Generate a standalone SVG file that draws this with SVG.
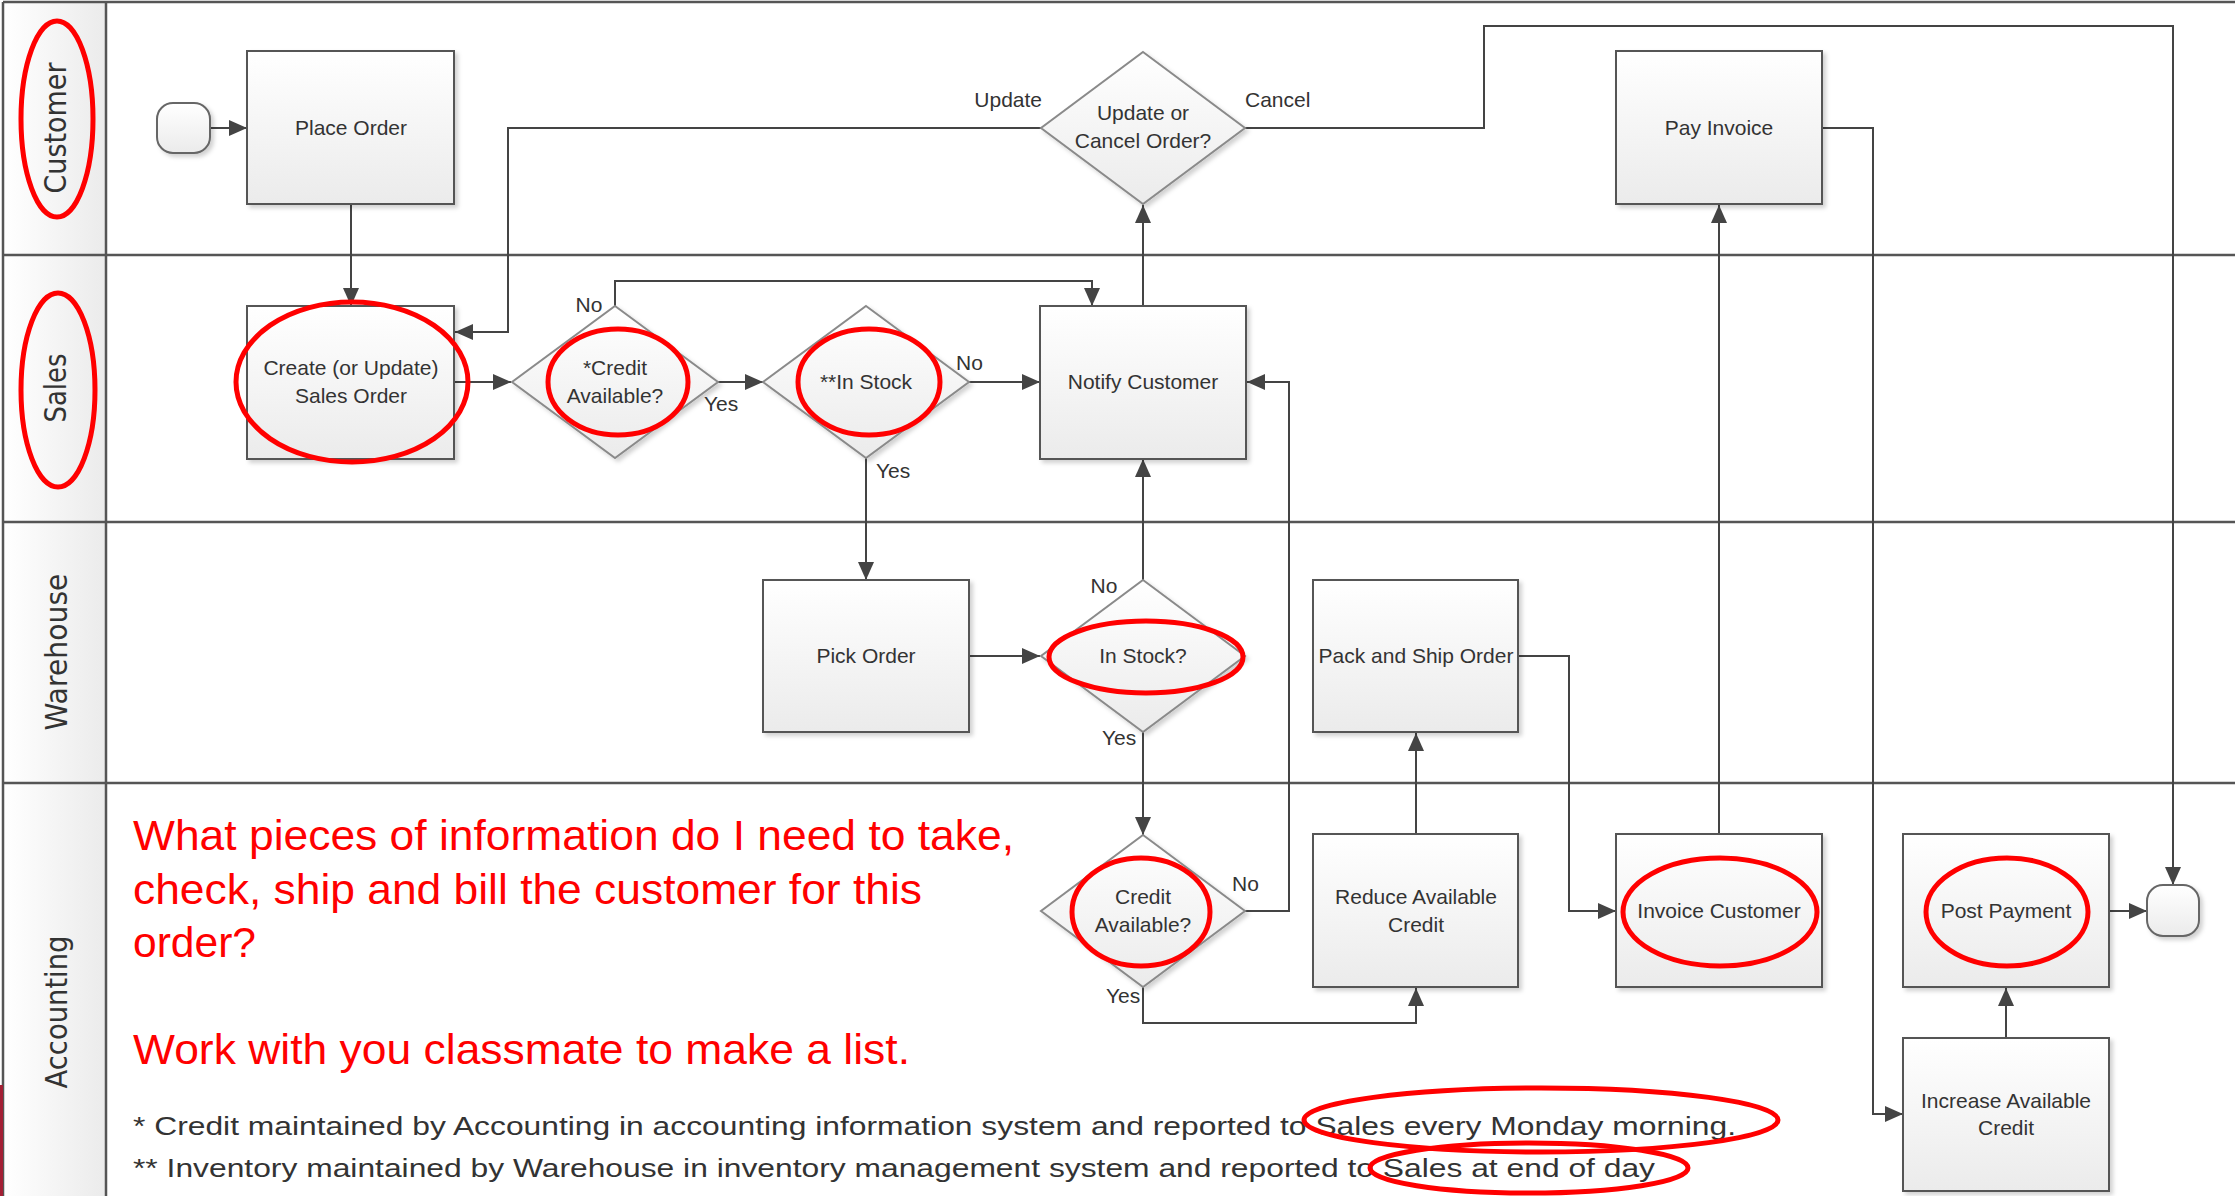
<svg xmlns="http://www.w3.org/2000/svg" width="2235" height="1196" viewBox="0 0 2235 1196">
<style>
.lane{stroke:#555;stroke-width:2.5;fill:none}
.box{fill:url(#gBox);stroke:#555;stroke-width:2;filter:url(#sh)}
.dia{fill:url(#gBox);stroke:#8a8a8a;stroke-width:2;filter:url(#sh)}
.term{fill:url(#gBox);stroke:#666;stroke-width:2;filter:url(#sh)}
.t{font-family:"Liberation Sans",Arial,sans-serif;font-size:21px;fill:#333;text-anchor:middle}
.lbl{font-family:"Liberation Sans",Arial,sans-serif;font-size:21px;fill:#333}
.ln{font-family:"DejaVu Sans",Verdana,sans-serif;font-size:30px;fill:#333;text-anchor:middle}
.q{font-family:"Liberation Sans",Arial,sans-serif;font-size:42px;fill:#ff0000}
.fn{font-family:"Liberation Sans",Arial,sans-serif;font-size:26px;fill:#333}
.c{fill:none;stroke:#444;stroke-width:2;marker-end:url(#ah)}
.cn{fill:none;stroke:#444;stroke-width:2}
.red{fill:none;stroke:#ff0000;stroke-width:5}
</style>
<defs>
<linearGradient id="gBox" x1="0" y1="0" x2="0" y2="1"><stop offset="0" stop-color="#ffffff"/><stop offset="1" stop-color="#ebebeb"/></linearGradient>
<linearGradient id="gHead" x1="0" y1="0" x2="1" y2="0"><stop offset="0" stop-color="#ffffff"/><stop offset="1" stop-color="#ebebeb"/></linearGradient>
<filter id="sh" x="-10%" y="-10%" width="130%" height="130%"><feDropShadow dx="3" dy="3" stdDeviation="2" flood-color="#000" flood-opacity="0.18"/></filter>
<marker id="ah" markerUnits="userSpaceOnUse" markerWidth="18" markerHeight="16" refX="18" refY="8" orient="auto"><path d="M0,0 L18,8 L0,16 z" fill="#444"/></marker>
</defs>
<rect x="0" y="0" width="2235" height="1196" fill="#fff"/>
<g id="lanes">
<rect x="3" y="2" width="103" height="1194" fill="url(#gHead)"/>
<line class="lane" x1="3" y1="2" x2="2235" y2="2"/>
<line class="lane" x1="3" y1="2" x2="3" y2="1196"/>
<line class="lane" x1="106" y1="2" x2="106" y2="1196"/>
<line class="lane" x1="3" y1="255" x2="2235" y2="255"/>
<line class="lane" x1="3" y1="522" x2="2235" y2="522"/>
<line class="lane" x1="3" y1="783" x2="2235" y2="783"/>
<rect x="0" y="1085" width="3" height="111" fill="#a31f34"/>
<text class="ln" transform="translate(66,128) rotate(-90)" textLength="131" lengthAdjust="spacingAndGlyphs">Customer</text>
<text class="ln" transform="translate(66,388) rotate(-90)" textLength="69" lengthAdjust="spacingAndGlyphs">Sales</text>
<text class="ln" transform="translate(67,652) rotate(-90)" textLength="157" lengthAdjust="spacingAndGlyphs">Warehouse</text>
<text class="ln" transform="translate(67,1012) rotate(-90)" textLength="153" lengthAdjust="spacingAndGlyphs">Accounting</text>
</g>
<g id="connectors">
<path class="c" d="M210,128 H247"/>
<path class="c" d="M351,204 V306"/>
<path class="c" d="M1041,128 H508 V332 H455"/>
<path class="c" d="M454,382 H511"/>
<path class="c" d="M615,307 V281 H1092 V306"/>
<path class="c" d="M718,382 H763"/>
<path class="c" d="M968,382 H1040"/>
<path class="c" d="M1143,306 V205"/>
<path class="c" d="M1245,128 H1484 V26 H2173 V885"/>
<path class="c" d="M866,458 V580"/>
<path class="c" d="M969,656 H1040"/>
<path class="c" d="M1143,580 V459"/>
<path class="c" d="M1143,732 V835"/>
<path class="c" d="M1244,911 H1289 V382 H1247"/>
<path class="c" d="M1143,987 V1023 H1416 V988"/>
<path class="c" d="M1416,834 V733"/>
<path class="c" d="M1518,656 H1569 V911 H1616"/>
<path class="c" d="M1719,834 V205"/>
<path class="c" d="M1822,128 H1873 V1114 H1903"/>
<path class="c" d="M2006,1038 V988"/>
<path class="c" d="M2109,911 H2147"/>
<text class="lbl" x="1042" y="107" text-anchor="end">Update</text>
<text class="lbl" x="1245" y="107">Cancel</text>
<text class="lbl" x="589" y="312" text-anchor="middle">No</text>
<text class="lbl" x="704" y="411">Yes</text>
<text class="lbl" x="956" y="370">No</text>
<text class="lbl" x="876" y="478">Yes</text>
<text class="lbl" x="1104" y="593" text-anchor="middle">No</text>
<text class="lbl" x="1102" y="745">Yes</text>
<text class="lbl" x="1232" y="891">No</text>
<text class="lbl" x="1106" y="1003">Yes</text>
</g>
<g id="start"><rect class="term" x="157" y="103" width="53" height="50" rx="16"/></g>
<g id="place-order"><rect class="box" x="247" y="51" width="207" height="153"/><text class="t" x="351" y="135">Place Order</text></g>
<g id="create-order"><rect class="box" x="247" y="306" width="207" height="153"/><text class="t" x="351" y="375">Create (or Update)</text><text class="t" x="351" y="403">Sales Order</text></g>
<g id="credit-available-1"><path class="dia" d="M615,306 L718,382 L615,458 L512,382 Z"/><text class="t" x="615" y="375">*Credit</text><text class="t" x="615" y="403">Available?</text></g>
<g id="in-stock-1"><path class="dia" d="M866,306 L969,382 L866,458 L763,382 Z"/><text class="t" x="866" y="389">**In Stock</text></g>
<g id="notify-customer"><rect class="box" x="1040" y="306" width="206" height="153"/><text class="t" x="1143" y="389">Notify Customer</text></g>
<g id="update-or-cancel"><path class="dia" d="M1143,52 L1245,128 L1143,204 L1041,128 Z"/><text class="t" x="1143" y="120">Update or</text><text class="t" x="1143" y="148">Cancel Order?</text></g>
<g id="pay-invoice"><rect class="box" x="1616" y="51" width="206" height="153"/><text class="t" x="1719" y="135">Pay Invoice</text></g>
<g id="pick-order"><rect class="box" x="763" y="580" width="206" height="152"/><text class="t" x="866" y="663">Pick Order</text></g>
<g id="in-stock-2"><path class="dia" d="M1143,580 L1245,656 L1143,732 L1041,656 Z"/><text class="t" x="1143" y="663">In Stock?</text></g>
<g id="pack-ship"><rect class="box" x="1313" y="580" width="205" height="152"/><text class="t" x="1416" y="663">Pack and Ship Order</text></g>
<g id="credit-available-2"><path class="dia" d="M1143,835 L1245,911 L1143,987 L1041,911 Z"/><text class="t" x="1143" y="904">Credit</text><text class="t" x="1143" y="932">Available?</text></g>
<g id="reduce-credit"><rect class="box" x="1313" y="834" width="205" height="153"/><text class="t" x="1416" y="904">Reduce Available</text><text class="t" x="1416" y="932">Credit</text></g>
<g id="invoice-customer"><rect class="box" x="1616" y="834" width="206" height="153"/><text class="t" x="1719" y="918">Invoice Customer</text></g>
<g id="post-payment"><rect class="box" x="1903" y="834" width="206" height="153"/><text class="t" x="2006" y="918">Post Payment</text></g>
<g id="increase-credit"><rect class="box" x="1903" y="1038" width="206" height="153"/><text class="t" x="2006" y="1108">Increase Available</text><text class="t" x="2006" y="1135">Credit</text></g>
<g id="end"><rect class="term" x="2147" y="885" width="52" height="51" rx="16"/></g>
<g id="notes">
<text class="q" x="133" y="850" textLength="881" lengthAdjust="spacingAndGlyphs">What pieces of information do I need to take,</text>
<text class="q" x="133" y="904" textLength="789" lengthAdjust="spacingAndGlyphs">check, ship and bill the customer for this</text>
<text class="q" x="133" y="957" textLength="123" lengthAdjust="spacingAndGlyphs">order?</text>
<text class="q" x="133" y="1064" textLength="777" lengthAdjust="spacingAndGlyphs">Work with you classmate to make a list.</text>
<text class="fn" x="133" y="1135" textLength="1603" lengthAdjust="spacingAndGlyphs">* Credit maintained by Accounting in accounting information system and reported to Sales every Monday morning.</text>
<text class="fn" x="133" y="1177" textLength="1522" lengthAdjust="spacingAndGlyphs">** Inventory maintained by Warehouse in inventory management system and reported to Sales at end of day</text>
</g>
<g id="highlights">
<ellipse class="red" cx="57" cy="119" rx="36" ry="98"/>
<ellipse class="red" cx="58" cy="390" rx="37" ry="97"/>
<ellipse class="red" cx="352" cy="382" rx="116" ry="80"/>
<ellipse class="red" cx="618" cy="382" rx="70" ry="53"/>
<ellipse class="red" cx="869" cy="382" rx="71" ry="53"/>
<ellipse class="red" cx="1146" cy="657" rx="97" ry="36"/>
<ellipse class="red" cx="1141" cy="912" rx="69" ry="54"/>
<ellipse class="red" cx="1720" cy="912" rx="97" ry="54"/>
<ellipse class="red" cx="2007" cy="912" rx="81" ry="54"/>
<ellipse class="red" cx="1541" cy="1120" rx="237" ry="32"/>
<ellipse class="red" cx="1529" cy="1168" rx="159" ry="25"/>
</g>
</svg>
